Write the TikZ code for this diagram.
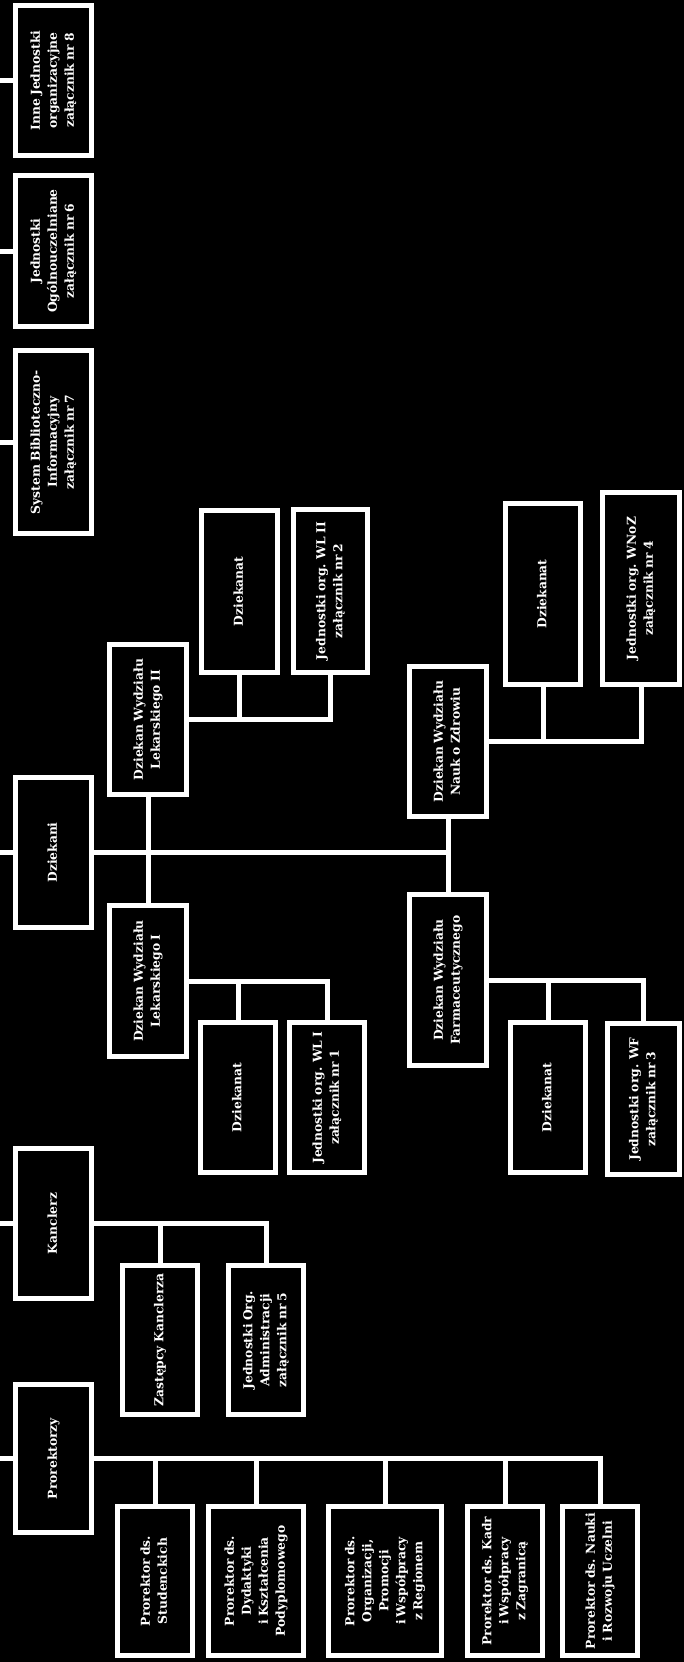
\documentclass[tikz,border=0pt]{standalone}
\usepackage{fontspec}
\setmainfont{DejaVu Serif}
\usepackage{graphicx}
\newcommand{\rtxt}[1]{\rotatebox{90}{\fontsize{12.3}{17}\selectfont\bfseries\spaceskip=0.27em\begin{tabular}{@{}c@{}}#1\end{tabular}}}
\tikzset{
  orgbox/.style={draw=white, fill=black, line width=5pt, text=white, inner sep=0pt},
  link/.style={draw=white, line width=5pt}
}
\newcommand{\bx}[6]{\node[orgbox, minimum width={(#3-#2-5)*1pt}, minimum height={(#5-#4-5)*1pt}] (#1) at ({(#2+#3)/2},{(#4+#5)/2}) {\rtxt{#6}};}
\begin{document}
\begin{tikzpicture}[x=1pt,y=-1pt]
\fill[black] (0,0) rectangle (684,1662);
\useasboundingbox (0,0) rectangle (684,1662);
\coordinate (root) at (0,0);
% top-level column
\bx{inne}{13}{94}{3}{158}{Inne Jednostki\\organizacyjne\\załącznik nr 8}
\bx{ogol}{13}{94}{173}{329}{Jednostki\\Ogólnouczelniane\\załącznik nr 6}
\bx{sys}{13}{94}{348}{536}{System Biblioteczno-\\Informacyjny\\załącznik nr 7}
\bx{dziek}{13}{94}{775}{930}{Dziekani}
\bx{kanc}{13}{94}{1146}{1301}{Kanclerz}
\bx{prorek}{13}{94}{1382}{1535}{Prorektorzy}
% deans
\bx{wl2}{107}{189}{642}{797}{Dziekan Wydziału\\Lekarskiego II}
\bx{wl2d}{199}{280}{508}{675}{Dziekanat}
\bx{wl2j}{291}{370}{507}{675}{Jednostki org. WL II\\załącznik nr 2}
\bx{noz}{407}{489}{664}{819}{Dziekan Wydziału\\Nauk o Zdrowiu}
\bx{nozd}{503}{583}{501}{687}{Dziekanat}
\bx{nozj}{600}{682}{490}{687}{Jednostki org. WNoZ\\załącznik nr 4}
\bx{wl1}{107}{189}{903}{1059}{Dziekan Wydziału\\Lekarskiego I}
\bx{wl1d}{198}{278}{1020}{1175}{Dziekanat}
\bx{wl1j}{287}{367}{1020}{1175}{Jednostki org. WL I\\załącznik nr 1}
\bx{farm}{407}{489}{892}{1068}{Dziekan Wydziału\\Farmaceutycznego}
\bx{farmd}{508}{588}{1020}{1175}{Dziekanat}
\bx{farmj}{605}{682}{1021}{1177}{Jednostki org. WF\\załącznik nr 3}
% chancellor
\bx{zast}{120}{200}{1263}{1417}{Zastępcy Kanclerza}
\bx{admin}{226}{306}{1263}{1417}{Jednostki Org.\\Administracji\\załącznik nr 5}
% vice-rectors
\bx{p1}{115}{195}{1504}{1658}{Prorektor ds.\\Studenckich}
\bx{p2}{206}{306}{1504}{1658}{Prorektor ds.\\Dydaktyki\\i Kształcenia\\Podyplomowego}
\bx{p3}{326}{444}{1504}{1658}{Prorektor ds.\\Organizacji,\\Promocji\\i Współpracy\\z Regionem}
\bx{p4}{465}{545}{1504}{1658}{Prorektor ds. Kadr\\i Współpracy\\z Zagranicą}
\bx{p5}{560}{640}{1504}{1658}{Prorektor ds. Nauki\\i Rozwoju Uczelni}
% stubs
\foreach \n in {inne,ogol,sys,dziek,kanc,prorek}
  \draw[link] (\n.west) -- (\n.west -| root);
% dziekani
\draw[link] (dziek.east) -- (dziek.east -| farm.north);
\draw[link] (wl2.south) -- (wl1.north);
\draw[link] (noz.south) -- (farm.north);
% WL II
\draw[link] (wl2.east) -| (wl2j.south);
\draw[link] (wl2d.south) -- (wl2d.south |- wl2.east);
% NoZ
\draw[link] (noz.east) -| (nozj.south);
\draw[link] (nozd.south) -- (nozd.south |- noz.east);
% WL I
\draw[link] (wl1.east) -| (wl1j.north);
\draw[link] (wl1d.north) -- (wl1d.north |- wl1.east);
% Farm
\draw[link] (farm.east) -| (farmj.north);
\draw[link] (farmd.north) -- (farmd.north |- farm.east);
% Kanclerz
\draw[link] (kanc.east) -| (admin.north);
\draw[link] (zast.north) -- (zast.north |- kanc.east);
% Prorektorzy
\draw[link] (prorek.east) -| (p5.north);
\foreach \n in {p1,p2,p3,p4}
  \draw[link] (\n.north) -- (\n.north |- prorek.east);
\end{tikzpicture}
\end{document}
